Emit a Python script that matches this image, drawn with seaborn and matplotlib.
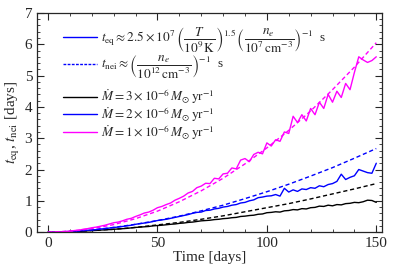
import numpy as np
import pandas as pd
import seaborn as sns
import matplotlib.pyplot as plt
from matplotlib.lines import Line2D
from matplotlib.ticker import MultipleLocator

sns.set_style('ticks')
plt.rcParams['font.family'] = ['Liberation Serif', 'DejaVu Serif']
plt.rcParams['mathtext.fontset'] = 'stix'

# smooth t_nei curves (dashed), every 10 days
t_smooth = [0, 10, 20, 30, 40, 50, 60, 70, 80, 90, 100, 110, 120, 130, 140, 150]
nei_mdot3 = [0, 0.015, 0.05, 0.09, 0.15, 0.23, 0.31, 0.41, 0.52, 0.65, 0.78, 0.91, 1.06, 1.22, 1.38, 1.55]
nei_mdot2 = [0, 0.02, 0.07, 0.15, 0.25, 0.37, 0.51, 0.68, 0.86, 1.07, 1.29, 1.53, 1.79, 2.06, 2.36, 2.67]
nei_mdot1 = [0, 0.03, 0.11, 0.24, 0.43, 0.67, 0.97, 1.32, 1.72, 2.18, 2.69, 3.25, 3.87, 4.55, 5.27, 6.05]

# noisy t_eq curves (solid), every 2 days
t_noisy = list(range(0, 151, 2))
eq_mdot3 = [0, 0, 0.002, 0.004, 0.007, 0.01, 0.015, 0.02, 0.03, 0.04,
            0.05, 0.055, 0.065, 0.075, 0.08, 0.09, 0.1, 0.11, 0.12, 0.135,
            0.15, 0.16, 0.17, 0.18, 0.2, 0.21, 0.22, 0.235, 0.25, 0.26,
            0.28, 0.29, 0.31, 0.32, 0.34, 0.36, 0.37, 0.38, 0.4, 0.41,
            0.43, 0.44, 0.46, 0.47, 0.5, 0.51, 0.53, 0.54, 0.57, 0.58,
            0.62, 0.63, 0.65, 0.64, 0.68, 0.69, 0.72, 0.71, 0.75, 0.74,
            0.78, 0.79, 0.83, 0.82, 0.86, 0.84, 0.88, 0.87, 0.91, 0.92,
            0.95, 0.94, 0.97, 1.02, 1.01, 0.95]
eq_mdot2 = [0, 0, 0.005, 0.01, 0.015, 0.02, 0.03, 0.04, 0.05, 0.06,
            0.07, 0.08, 0.1, 0.11, 0.13, 0.15, 0.16, 0.18, 0.2, 0.22,
            0.25, 0.27, 0.29, 0.31, 0.34, 0.37, 0.39, 0.41, 0.44, 0.47,
            0.5, 0.53, 0.56, 0.6, 0.63, 0.64, 0.69, 0.7, 0.74, 0.76,
            0.8, 0.82, 0.86, 0.88, 0.93, 0.95, 1.0, 1.03, 1.1, 1.12,
            1.15, 1.16, 1.2, 1.15, 1.4, 1.28, 1.35, 1.3, 1.38, 1.36,
            1.42, 1.4, 1.48, 1.45, 1.52, 1.55, 1.62, 1.85, 1.68, 1.75,
            1.8, 2.0, 1.95, 1.9, 1.88, 2.2]
eq_mdot1 = [0, 0, 0.01, 0.01, 0.02, 0.03, 0.05, 0.06, 0.09, 0.11,
            0.14, 0.16, 0.19, 0.22, 0.26, 0.3, 0.32, 0.36, 0.41, 0.44,
            0.5, 0.55, 0.61, 0.64, 0.7, 0.78, 0.82, 0.88, 0.93, 1.02,
            1.08, 1.15, 1.25, 1.3, 1.42, 1.47, 1.56, 1.55, 1.72, 1.7,
            1.86, 1.88, 2.05, 2.02, 2.3, 2.35, 2.25, 2.48, 2.55, 2.5,
            2.85, 2.75, 2.95, 2.9, 3.2, 3.15, 3.7, 3.5, 3.75, 3.55,
            3.95, 3.75, 4.15, 3.95, 4.4, 4.15, 4.5, 4.3, 4.75, 4.55,
            5.1, 5.6, 5.5, 5.42, 5.48, 5.6]

mdot_labels = [r'$\dot{M} = 3\times10^{-6}\,M_{\odot}\,{\rm yr}^{-1}$',
               r'$\dot{M} = 2\times10^{-6}\,M_{\odot}\,{\rm yr}^{-1}$',
               r'$\dot{M} = 1\times10^{-6}\,M_{\odot}\,{\rm yr}^{-1}$']
colors = ['black', 'blue', 'magenta']

fig, ax = plt.subplots(figsize=(3.95, 2.76), dpi=100)
fig.subplots_adjust(left=0.094, right=0.967, top=0.953, bottom=0.159)

mdot_handles = []
for eq, nei, c in zip([eq_mdot3, eq_mdot2, eq_mdot1], [nei_mdot3, nei_mdot2, nei_mdot1], colors):
    sns.lineplot(x=t_noisy, y=eq, color=c, lw=1.0, ax=ax)
    sns.lineplot(x=t_smooth, y=nei, color=c, lw=1.0, ax=ax, linestyle=(0, (3, 2)))
    mdot_handles.append(Line2D([], [], color=c, lw=1.0))

ax.set_xlim(-5, 152.6)
ax.set_ylim(0, 7)
ax.xaxis.set_major_locator(MultipleLocator(50))
ax.xaxis.set_minor_locator(MultipleLocator(10))
ax.yaxis.set_major_locator(MultipleLocator(1))
ax.yaxis.set_minor_locator(MultipleLocator(0.2))
ax.tick_params(which='both', direction='in', top=True, right=True, labelsize=11)
ax.tick_params(which='major', length=5, width=0.8)
ax.tick_params(which='minor', length=2.5, width=0.6)
for s in ax.spines.values():
    s.set_linewidth(0.9)

ax.set_xlabel('Time [days]', fontsize=11, labelpad=1)
ax.set_ylabel(r'$t_{\rm eq}$, $t_{\rm nei}$ [days]', fontsize=11, labelpad=2)

# legend for the two time-scale formulas
style_handles = [
    Line2D([], [], color='blue', lw=1.0),
    Line2D([], [], color='blue', lw=1.0, linestyle=(0, (2, 1))),
]
style_labels = [
    r'$t_{\rm eq} \approx 2.5\times10^{7}\,\left(\dfrac{T}{10^{9}\,{\rm K}}\right)^{1.5}\,'
    r'\left(\dfrac{n_e}{10^{7}\,{\rm cm}^{-3}}\right)^{-1}$  s',
    r'$t_{\rm nei} \approx \left(\dfrac{n_e}{10^{12}\,{\rm cm}^{-3}}\right)^{-1}$  s',
]
leg1 = ax.legend(style_handles, style_labels, loc='upper left', frameon=False, fontsize=9.5,
                 handlelength=2.6, handletextpad=0.3, labelspacing=0.0,
                 bbox_to_anchor=(0.04, 1.0))
ax.add_artist(leg1)

# legend for the mass-loss rates
ax.legend(mdot_handles, mdot_labels, loc='upper left', frameon=False, fontsize=9.5,
          handlelength=2.6, handletextpad=0.3, labelspacing=-0.1,
          bbox_to_anchor=(0.04, 0.715))

fig.savefig('out.png', dpi=100)
